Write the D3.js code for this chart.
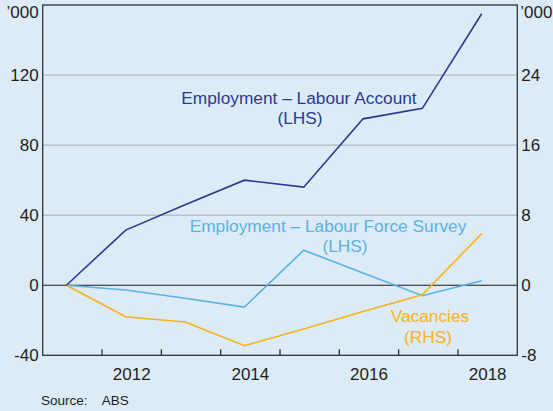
<!DOCTYPE html>
<html>
<head>
<meta charset="utf-8">
<script src="https://cdn.jsdelivr.net/npm/d3@7"></script>
<style>
  body { margin: 0; background: #dcebf6; }
  svg { display: block; font-family: "Liberation Sans", Arial, sans-serif; }
</style>
</head>
<body>
<svg id="chart"></svg>
<script>
// DATA (June of each year, cumulative change since 2011)
const years = [2011, 2012, 2013, 2014, 2015, 2016, 2017, 2018];
const labourAccount = [0, 31.5, 46, 60, 56, 95, 101, 155];     // LHS '000
const labourForce = [0, -2.7, -7.4, -12.5, 20, 7, -6, 2.6];    // LHS '000
const vacancies = [0, -3.6, -4.2, -6.9, -5.0, -3.0, -1.1, 5.9]; // RHS '000
const leftTicks = [-40, 0, 40, 80, 120];
const rightTicks = [-8, 0, 8, 16, 24];
const yearLabels = [2012, 2014, 2016, 2018];

const width = 553, height = 411;
const margin = {top: 5, right: 35.7, bottom: 55.7, left: 42.7};

const svg = d3.select("#chart")
    .attr("width", width)
    .attr("height", height);

svg.append("rect")
    .attr("width", width).attr("height", height)
    .attr("fill", "#dcebf6");

// SCALES
const xScale = d3.scaleLinear()
    .domain([2011, 2019])
    .range([margin.left, width - margin.right]);

const yLeft = d3.scaleLinear()
    .domain([-40, 160])
    .range([height - margin.bottom, margin.top]);

const yRight = d3.scaleLinear()
    .domain([-8, 32])
    .range([height - margin.bottom, margin.top]);

// GRIDLINES
svg.append("g")
    .selectAll("line")
    .data(leftTicks.filter(d => d > -40 && d !== 0))
    .join("line")
    .attr("x1", margin.left).attr("x2", width - margin.right)
    .attr("y1", d => yLeft(d)).attr("y2", d => yLeft(d))
    .attr("stroke", "#a9acae")
    .attr("stroke-width", 1);

// zero line
svg.append("line")
    .attr("x1", margin.left).attr("x2", width - margin.right)
    .attr("y1", yLeft(0)).attr("y2", yLeft(0))
    .attr("stroke", "#1a1a1a")
    .attr("stroke-width", 1.2);

// LINES
const line = (yScale) => d3.line()
    .x(d => xScale(d[0] + 0.4))
    .y(d => yScale(d[1]));

const series = [
  {vals: labourForce, scale: yLeft, color: "#58b2e4"},
  {vals: vacancies, scale: yRight, color: "#f8b21c"},
  {vals: labourAccount, scale: yLeft, color: "#2b3990"}
];

series.forEach(s => {
    svg.append("path")
        .datum(years.map((y, i) => [y, s.vals[i]]))
        .attr("fill", "none")
        .attr("stroke", s.color)
        .attr("stroke-width", 1.6)
        .attr("stroke-linejoin", "miter")
        .attr("d", line(s.scale));
});

// FRAME
svg.append("rect")
    .attr("x", margin.left).attr("y", margin.top)
    .attr("width", width - margin.left - margin.right)
    .attr("height", height - margin.top - margin.bottom)
    .attr("fill", "none")
    .attr("stroke", "#333")
    .attr("stroke-width", 1.3);

// X AXIS: ticks at year boundaries, labels mid-year
const xAxis = svg.append("g")
    .attr("transform", `translate(0, ${height - margin.bottom})`);

xAxis.selectAll("line")
    .data(d3.range(2012, 2019))
    .join("line")
    .attr("x1", d => xScale(d)).attr("x2", d => xScale(d))
    .attr("y1", 0).attr("y2", -6)
    .attr("stroke", "#333")
    .attr("stroke-width", 1.3);

xAxis.selectAll("text")
    .data(yearLabels)
    .join("text")
    .attr("x", d => xScale(d + 0.5))
    .attr("y", 25)
    .attr("text-anchor", "middle")
    .attr("font-size", 17)
    .attr("fill", "#231f20")
    .text(d => d);

// Y AXES LABELS
svg.append("g")
    .selectAll("text")
    .data(leftTicks)
    .join("text")
    .attr("x", margin.left - 4)
    .attr("y", d => yLeft(d))
    .attr("dy", "0.36em")
    .attr("text-anchor", "end")
    .attr("font-size", 17)
    .attr("fill", "#231f20")
    .text(d => d);

svg.append("g")
    .selectAll("text")
    .data(rightTicks)
    .join("text")
    .attr("x", width - margin.right + 4)
    .attr("y", d => yRight(d))
    .attr("dy", "0.36em")
    .attr("font-size", 17)
    .attr("fill", "#231f20")
    .text(d => d);

svg.append("text")
    .attr("x", margin.left - 4).attr("y", 18)
    .attr("text-anchor", "end")
    .attr("font-size", 17).attr("fill", "#231f20")
    .text("’000");

svg.append("text")
    .attr("x", width - margin.right + 3).attr("y", 18)
    .attr("font-size", 17).attr("fill", "#231f20")
    .text("’000");

// ANNOTATIONS
const notes = [
  {text: "Employment – Labour Account", x: 299, y: 104, color: "#2b3990"},
  {text: "(LHS)", x: 300, y: 124, color: "#2b3990"},
  {text: "Employment – Labour Force Survey", x: 328, y: 232, color: "#58b2e4"},
  {text: "(LHS)", x: 345, y: 252, color: "#58b2e4"},
  {text: "Vacancies", x: 430, y: 322, color: "#f8b21c"},
  {text: "(RHS)", x: 428, y: 343, color: "#f8b21c"}
];

svg.append("g")
    .selectAll("text")
    .data(notes)
    .join("text")
    .attr("x", d => d.x).attr("y", d => d.y)
    .attr("text-anchor", "middle")
    .attr("font-size", 17.3)
    .attr("fill", d => d.color)
    .text(d => d.text);

// SOURCE
svg.append("text")
    .attr("x", 41).attr("y", 405)
    .attr("font-size", 13.5)
    .attr("fill", "#231f20")
    .attr("xml:space", "preserve")
    .style("white-space", "pre")
    .text("Source:    ABS");
</script>
</body>
</html>
